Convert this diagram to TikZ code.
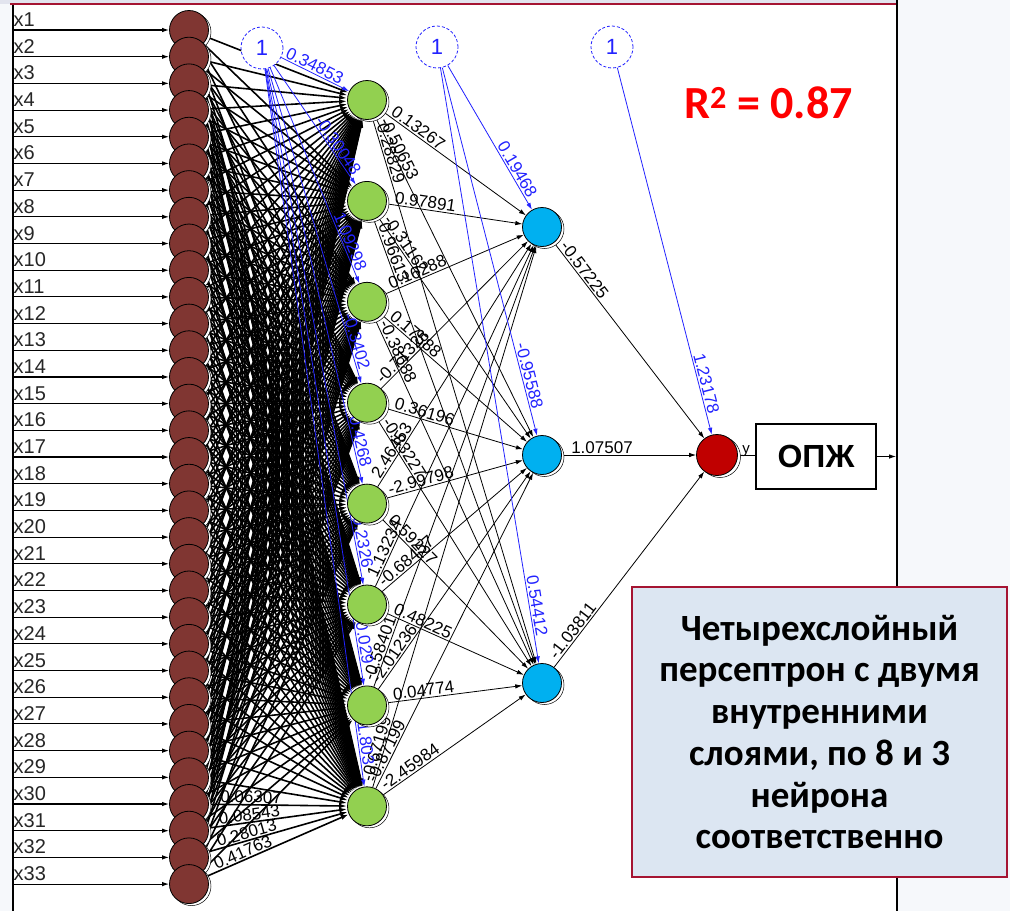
\documentclass[tikz,border=0pt]{standalone}
\usepackage{fontspec}
\setmainfont{Liberation Sans}
\newfontfamily\calib{Carlito}
\usetikzlibrary{arrows.meta,calc}
\pgfdeclarelayer{back}
\pgfdeclarelayer{bg}
\pgfsetlayers{back,bg,main}
\definecolor{brownN}{RGB}{128,54,50}
\definecolor{greenN}{RGB}{146,208,80}
\definecolor{blueN}{RGB}{0,176,240}
\definecolor{redN}{RGB}{192,0,0}
\definecolor{boxfill}{RGB}{220,230,242}
\definecolor{boxline}{RGB}{165,20,50}
\definecolor{slide}{RGB}{246,248,251}
\definecolor{strip}{RGB}{226,228,238}
\definecolor{linkblue}{RGB}{35,35,255}
\definecolor{rsq}{RGB}{255,0,0}
% label at distance #3 from the centre of #1, along #1 -> #2
\newcommand\elab[5]{\path let \p1=(#1.center), \p2=(#2.center), \n1={veclen(\x2-\x1,\y2-\y1)} in (#1.center) -- (#2.center) node[#5, pos={#3/\n1}] {#4};}
% label at distance #3 before the centre of #2
\newcommand\elabE[5]{\path let \p1=(#1.center), \p2=(#2.center), \n1={veclen(\x2-\x1,\y2-\y1)} in (#1.center) -- (#2.center) node[#5, pos={1-#3/\n1}] {#4};}
\begin{document}
\begin{tikzpicture}[x=1pt,y=-1pt,
  conn/.style={line width=0.8pt, -{Latex[length=7pt,width=4.5pt]}},
  dense/.style={line width=1.6pt, -{Latex[length=8pt,width=5pt]}},
  bconn/.style={conn, draw=linkblue, -{Latex[length=7pt,width=4.5pt,fill=linkblue]}},
  plain/.style={line width=0.8pt},
  neuron/.style={circle, draw=black, line width=0.8pt, minimum size=39pt, inner sep=0pt},
  shad/.style={draw=black, fill=white, line width=0.5pt},
  bias/.style={circle, draw=linkblue, fill=white, dash pattern=on 3pt off 2pt, line width=0.8pt, minimum size=42pt, inner sep=0pt, text=linkblue, font=\fontsize{22}{22}\selectfont},
  wlab/.style={font=\fontsize{17}{17}\selectfont, sloped, above, inner sep=1.5pt},
  blab/.style={wlab, text=linkblue},
  xlab/.style={font=\fontsize{20}{20}\selectfont, text=black!85, anchor=base west, inner sep=0pt}
]
\useasboundingbox (0,0) rectangle (1010,911);
% background and frame
\begin{pgfonlayer}{back}
\fill[slide] (0,0) rectangle (1010,911);
\fill[strip] (0,0) rectangle (897,3.5);
\fill[white] (13,5) rectangle (897,911);
\end{pgfonlayer}
\draw[boxline, line width=1.6pt] (10,4) -- (897,4);
\draw[line width=1.4pt] (13,5) -- (13,911);
\draw[line width=2pt] (897,0) -- (897,911);

% input layer
\foreach \i in {1,...,33}{
  \pgfmathsetmacro\yy{30+(\i-1)*26.69}
  \coordinate (s\i) at (13,\yy);
  \draw[shad] (191.5,\yy+2) circle[radius=19.5pt];
  \node[neuron, fill=brownN] (in\i) at (189,\yy) {};
  \node[xlab] (xl\i) at (13.5,\yy-3.5) {x\i};
}
% hidden layer 1
\foreach \j in {1,...,8}{
  \pgfmathsetmacro\yy{100+(\j-1)*100.9}
  \draw[shad] (369.5,\yy+2) circle[radius=19.5pt];
  \node[neuron, fill=greenN] (g\j) at (367,\yy) {};
}
% hidden layer 2
\foreach \k/\yy in {1/227,2/455,3/683}{
  \draw[shad] (544.5,\yy+2) circle[radius=19.5pt];
  \node[neuron, fill=blueN] (b\k) at (542,\yy) {};
}
% output
\draw[shad] (720,457) circle[radius=20.5pt];
\node[neuron, fill=redN, minimum size=41pt] (out) at (717,455) {};
\node[font=\fontsize{15}{15}\selectfont, inner sep=0pt] (ylab) at (746,451) {y};
% bias nodes
\node[bias] (c1) at (262,48) {1};
\node[bias] (c2) at (437,47) {1};
\node[bias] (c3) at (612,47) {1};
% output box
\node[draw=black, line width=1.3pt, fill=white, minimum width=120pt, minimum height=65pt, inner sep=0pt,
      font=\bfseries\fontsize{32}{32}\selectfont] (opz) at (816,456.5) {ОПЖ};
\coordinate (fr) at (896,456.5);
% R^2
\node[anchor=base west, inner sep=0pt, text=rsq, font=\calib\bfseries\fontsize{46}{46}\selectfont] (r2) at (684,118) {R\textsuperscript{2} = 0.87};
% note box
\node[draw=boxline, line width=1.8pt, fill=boxfill, minimum width=375pt, minimum height=290pt, align=center,
      font=\calib\bfseries\fontsize{37}{41.7}\selectfont] (note) at (819.5,732)
  {Четырехслойный\\персептрон с двумя\\внутренними\\слоями, по 8 и 3\\нейрона\\соответственно};
% visible labels input -> hidden 1 (on top of the dense bundle)
\foreach \i/\t in {30/0.06307, 31/0.08543, 32/0.28013, 33/0.41763}{\elab{in\i}{g8}{62}{\t}{wlab}}

\begin{pgfonlayer}{bg}
  \foreach \i in {1,...,33}{\draw[conn, line width=1.1pt] (s\i) -- (in\i);}
  \foreach \i in {1,...,33}{\foreach \j in {1,...,8}{\draw[dense] (in\i) -- (g\j);}}
  \foreach \j in {1,...,8}{\foreach \k in {1,2,3}{\draw[conn] (g\j) -- (b\k);}}
  \foreach \k in {1,2,3}{\draw[conn] (b\k) -- (out);}
  \foreach \j in {1,...,8}{\draw[bconn] (c1) -- (g\j);}
  \foreach \k in {1,2,3}{\draw[bconn] (c2) -- (b\k);}
  \draw[bconn] (c3) -- (out);
  \draw[plain] (out) -- (opz);
  \draw[conn] (opz) -- (fr);
  % labels hidden 1 -> hidden 2
  \foreach \g/\b/\t in {1/1/0.13267, 1/2/-0.50653, 1/3/0.28829,
      2/1/0.97891, 2/2/-0.31162, 2/3/0.96613,
      3/1/0.16288, 3/2/0.17588, 3/3/-0.38688,
      4/1/-0.71328, 4/2/0.36196, 4/3/-0.83227,
      5/1/2.46453, 5/2/-2.99798, 5/3/0.59227,
      6/1/1.13234, 6/2/-0.68457, 6/3/0.48225,
      7/1/-0.58401, 7/2/-2.01236, 7/3/0.04774,
      8/1/-0.67199, 8/2/-0.87199, 8/3/-2.45984}{\elab{g\g}{b\b}{58}{\t}{wlab}}
  % labels hidden 2 -> output
  \foreach \k/\t in {1/-0.57225, 2/1.07507, 3/-1.03811}{\elab{b\k}{out}{60}{\t}{wlab}}
  % bias labels
  \foreach \j/\t in {1/0.34853, 2/-0.30048, 3/1.09298, 4/-0.3402, 5/0.4268, 6/0.2326, 7/0.029, 8/1.803}{\elabE{c1}{g\j}{62}{\t}{blab}}
  \foreach \k/\d/\t in {1/62/0.19468, 2/80/-0.95588, 3/77/0.54412}{\elabE{c2}{b\k}{\d}{\t}{blab}}
  \elabE{c3}{out}{72}{1.23178}{blab}
\end{pgfonlayer}
\end{tikzpicture}
\end{document}
